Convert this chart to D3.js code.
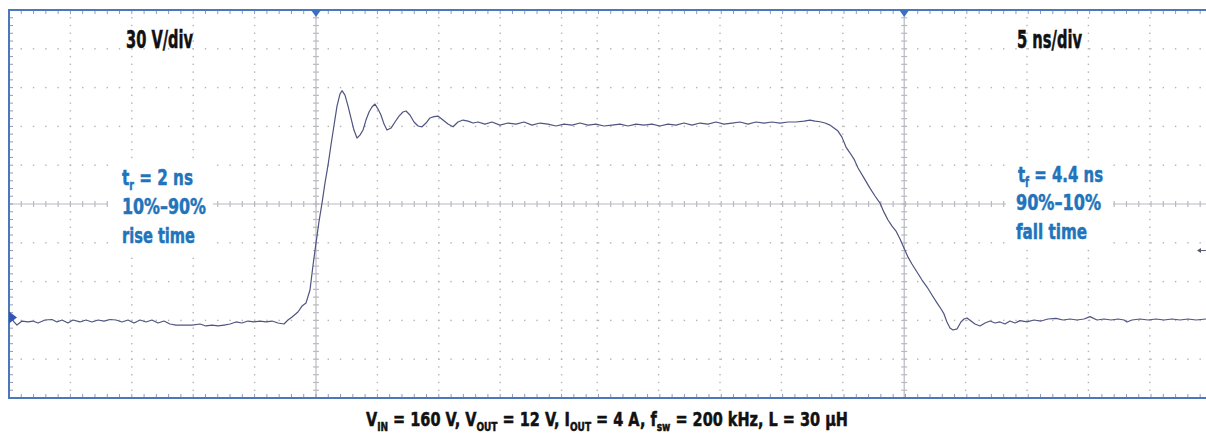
<!DOCTYPE html>
<html>
<head>
<meta charset="utf-8">
<script src="https://cdn.jsdelivr.net/npm/d3@7"></script>
<style>
  body { margin: 0; background: #fff; }
  svg { display: block; }
  .lbl { font-family: "Liberation Sans Narrow", "DejaVu Sans Condensed", "Roboto", sans-serif; font-weight: bold; font-stretch: condensed; }
</style>
</head>
<body>
<div id="chart"></div>
<script>
// switch-node waveform, time in ns (0 = rise trigger), volts
const timeNs = [
  -24.92, -24.59, -24.35, -23.94, -23.45, -23.05, -22.64, -22.07, -21.5, -21.09,
  -20.68, -20.2, -19.79, -19.22, -18.73, -18.24, -17.75, -17.26, -16.78, -16.29,
  -15.8, -15.31, -14.82, -14.33, -13.84, -13.36, -12.87, -12.38, -11.89, -11.4,
  -10.75, -10.1, -9.45, -8.96, -8.47, -7.98, -7.49, -7.0, -6.51, -6.03,
  -5.54, -5.05, -4.56, -4.07, -3.58, -3.09, -2.61, -2.28, -1.95, -1.47,
  -1.14, -0.81, -0.49, -0.24, 0, 0.24, 0.49, 0.73, 0.98, 1.22,
  1.47, 1.71, 1.95, 2.12, 2.36, 2.61, 2.85, 3.09, 3.34, 3.58,
  3.83, 4.07, 4.32, 4.56, 4.8, 5.05, 5.29, 5.54, 5.78, 6.11,
  6.43, 6.76, 7.08, 7.33, 7.65, 7.98, 8.31, 8.63, 8.96, 9.28,
  9.61, 9.93, 10.34, 10.75, 11.16, 11.56, 11.97, 12.38, 12.79, 13.19,
  13.76, 14.33, 14.98, 15.64, 16.29, 16.94, 17.59, 18.24, 18.89, 19.54,
  20.2, 20.85, 21.5, 22.15, 22.8, 23.45, 24.1, 24.76, 25.41, 26.06,
  26.71, 27.36, 28.01, 28.66, 29.32, 29.97, 30.62, 31.27, 31.92, 32.57,
  33.22, 33.88, 34.53, 35.18, 35.83, 36.48, 37.13, 37.79, 38.44, 39.09,
  39.74, 40.23, 40.64, 41.04, 41.45, 41.86, 42.18, 42.51, 42.83, 43.16,
  43.49, 43.81, 44.14, 44.63, 45.11, 45.52, 45.93, 46.25, 46.58, 46.91,
  47.23, 47.56, 47.88, 48.21, 48.53, 48.94, 49.35, 49.76, 50.16, 50.57,
  50.9, 51.14, 51.38, 51.63, 51.87, 52.2, 52.52, 52.77, 53.01, 53.34,
  53.66, 54.07, 54.48, 54.89, 55.29, 55.7, 56.11, 56.51, 56.92, 57.33,
  57.9, 58.47, 59.04, 59.61, 60.26, 60.83, 61.4, 61.97, 62.54, 63.03,
  63.6, 64.17, 64.74, 65.31, 65.8, 66.04, 66.45, 67.1, 67.75, 68.4,
  69.06, 69.71, 70.36, 71.01, 71.66, 72.48
];
const volts = [
  3.4, -1.2, -3.6, -0.5, -1.2, -0.5, -2.0, 0.3, 0.7, -1.2,
  0.3, -2.0, 0.3, -1.2, 0.3, -1.2, 0.3, -0.5, 0.7, 0.3,
  -1.2, 0.3, -2.0, 0.3, -1.2, 0.3, -2.0, -0.5, -2.8, -3.6,
  -3.6, -3.6, -2.8, -4.3, -3.6, -4.3, -3.6, -2.8, -1.2, -2.0,
  -0.5, -1.2, -0.5, -1.2, -0.5, -2.0, -2.8, 0.3, 2.6, 6.5,
  11.1, 13.5, 23.5, 42.8, 59.8, 76.1, 90.7, 106.2, 120.1, 135.6,
  151.0, 165.7, 175.0, 177.6, 174.2, 165.7, 156.4, 147.2, 141.0, 143.3,
  147.2, 154.9, 161.1, 165.0, 167.3, 163.4, 158.8, 151.8, 147.2, 148.7,
  153.4, 158.0, 161.1, 161.9, 158.8, 153.4, 150.3, 149.7, 152.6, 156.5,
  157.6, 158.0, 154.9, 151.8, 149.7, 153.4, 154.9, 154.1, 152.6, 153.4,
  151.8, 153.4, 151.0, 152.6, 151.8, 153.4, 151.0, 152.6, 151.8, 150.3,
  151.8, 151.0, 152.6, 151.0, 151.8, 150.3, 151.0, 151.8, 150.3, 151.8,
  151.0, 151.8, 150.3, 151.8, 151.0, 152.6, 151.0, 152.6, 151.8, 153.4,
  151.8, 152.6, 153.4, 151.8, 153.4, 152.6, 153.4, 152.6, 153.4, 153.4,
  154.1, 154.9, 154.1, 153.6, 152.6, 151.0, 148.7, 146.4, 141.7, 134.0,
  129.4, 124.7, 117.8, 110.0, 102.3, 96.2, 90.7, 83.7, 77.6, 72.9,
  69.1, 62.9, 55.9, 48.9, 43.6, 37.4, 31.2, 25.8, 19.6, 13.5,
  8.8, 5.0, -1.2, -5.9, -7.4, -6.6, -1.2, 1.1, 1.9, -0.5,
  -2.8, -4.3, -2.0, -0.5, -2.0, -1.2, -2.8, -0.5, -2.0, -0.2,
  -1.2, 0.3, -0.5, 1.1, 1.6, 0.3, 1.1, 0.3, 1.1, 2.9,
  0.3, 1.1, 0.3, 1.1, 0.3, -1.2, 0.3, 1.1, 0.3, 1.1,
  0.3, 1.1, 0.3, 1.1, 0.3, 1.1
];

// graticule (two stitched screens: rise edge and fall edge)
const cursorsNs = [0, 47.9];
const riseGridNs = [-20, -15, -10, -5, 5, 10, 15, 20];
const fallGridNs = [22.9, 27.9, 32.9, 37.9, 42.9, 52.9, 57.9, 62.9, 67.9, 72.9];
const voltGrid = [-30, 0, 30, 60, 120, 150, 180, 210];
const centerVolt = 90;
const groundVolt = 0;
const triggerVolt = 54;

const width = 1206, height = 436;

const x = d3.scaleLinear().domain([-25, 72.5]).range([9, 1206.3]);
const y = d3.scaleLinear().domain([-60, 240]).range([398, 10]);

const svg = d3.select('#chart')
  .append('svg')
  .attr('width', width)
  .attr('height', height)
  .attr('viewBox', [0, 0, width, height]);

const fL = x(-25), fR = width, fT = y(240), fB = y(-60);
const minorNs = d3.range(-25, 73, 1);
const minorV = d3.range(-60, 241, 6);

// dotted grid
const dots = svg.append('g').attr('fill', '#b4b4b8');
voltGrid.forEach(v => {
  dots.selectAll(null)
    .data(minorNs.filter(t => x(t) > fL + 2))
    .join('rect')
    .attr('x', t => x(t) - 0.7)
    .attr('y', y(v) - 0.7)
    .attr('width', 1.4)
    .attr('height', 1.4);
});
riseGridNs.concat(fallGridNs).forEach(t => {
  dots.selectAll(null)
    .data(minorV.filter(v => y(v) > fT + 2 && y(v) < fB - 2))
    .join('rect')
    .attr('x', x(t) - 0.7)
    .attr('y', v => y(v) - 0.7)
    .attr('width', 1.4)
    .attr('height', 1.4);
});

// center axes with minor ticks
const axes = svg.append('g').attr('stroke', '#b9b9c2').attr('stroke-width', 1.2);
axes.append('line')
  .attr('x1', fL).attr('x2', fR)
  .attr('y1', y(centerVolt)).attr('y2', y(centerVolt));
axes.selectAll(null)
  .data(minorNs)
  .join('line')
  .attr('x1', t => x(t)).attr('x2', t => x(t))
  .attr('y1', y(centerVolt) - 3).attr('y2', y(centerVolt) + 3);
cursorsNs.forEach(c => {
  axes.append('line')
    .attr('x1', x(c)).attr('x2', x(c))
    .attr('y1', fT).attr('y2', fB);
  axes.selectAll(null)
    .data(minorV)
    .join('line')
    .attr('x1', x(c) - 3).attr('x2', x(c) + 3)
    .attr('y1', v => y(v)).attr('y2', v => y(v));
});

// text backgrounds
svg.append('rect').attr('x', 108).attr('y', 160).attr('width', 105).attr('height', 92).attr('fill', '#fff');
svg.append('rect').attr('x', 1006).attr('y', 158).attr('width', 107).attr('height', 90).attr('fill', '#fff');

// frame ticks
const ticks = svg.append('g').attr('stroke', '#8d9bbd').attr('stroke-width', 1);
ticks.selectAll(null)
  .data(minorNs)
  .join('line')
  .attr('x1', t => x(t)).attr('x2', t => x(t))
  .attr('y1', fT).attr('y2', fT + 4);
ticks.selectAll(null)
  .data(minorNs)
  .join('line')
  .attr('x1', t => x(t)).attr('x2', t => x(t))
  .attr('y1', fB).attr('y2', fB - 4);
ticks.selectAll(null)
  .data(minorV)
  .join('line')
  .attr('x1', fL).attr('x2', fL + 4)
  .attr('y1', v => y(v)).attr('y2', v => y(v));

// frame
const frame = svg.append('g').attr('stroke', '#4c78bb').attr('stroke-width', 2);
frame.append('line').attr('x1', fL - 1).attr('x2', fR).attr('y1', fT).attr('y2', fT);
frame.append('line').attr('x1', fL - 1).attr('x2', fR).attr('y1', fB).attr('y2', fB);
frame.append('line').attr('x1', fL).attr('x2', fL).attr('y1', fT).attr('y2', fB);

// waveform
const wave = timeNs.map((t, i) => ({ t, v: volts[i] }));
svg.append('path')
  .datum(wave)
  .attr('fill', 'none')
  .attr('stroke', '#4f5480')
  .attr('stroke-width', 1.2)
  .attr('stroke-linejoin', 'round')
  .attr('d', d3.line().x(d => x(d.t)).y(d => y(d.v)));

// markers
cursorsNs.forEach(c => {
  svg.append('path')
    .attr('d', `M${x(c) - 5},${fT} L${x(c) + 5},${fT} L${x(c)},${fT + 7} Z`)
    .attr('fill', '#3b6fc2');
});
svg.append('path')
  .attr('d', `M${fL},${y(groundVolt) - 9} L${fL + 8},${y(groundVolt) - 3} L${fL},${y(groundVolt) + 3} Z`)
  .attr('fill', '#3455b3');
svg.append('path')
  .attr('d', `M${fR - 9},${y(triggerVolt)} L${fR - 5},${y(triggerVolt) - 2.5} L${fR - 5},${y(triggerVolt) + 2.5} Z`)
  .attr('fill', '#555a70');
svg.append('line')
  .attr('x1', fR - 5).attr('x2', fR)
  .attr('y1', y(triggerVolt)).attr('y2', y(triggerVolt))
  .attr('stroke', '#555a70');

// labels; parts are strings or {sub: '...'} subscripts
function label (xp, yp, parts, len, color, size) {
  const t = svg.append('text')
    .attr('class', 'lbl')
    .attr('x', xp).attr('y', yp)
    .attr('fill', color)
    .attr('stroke', color)
    .attr('stroke-width', 0.5)
    .attr('font-size', size)
    .attr('textLength', len)
    .attr('lengthAdjust', 'spacingAndGlyphs');
  let lowered = false;
  parts.forEach(p => {
    if (typeof p === 'string') {
      const s = t.append('tspan').text(p);
      if (lowered) s.attr('dy', -5);
      lowered = false;
    } else {
      t.append('tspan').attr('dy', 5).attr('font-size', size * 0.62).text(p.sub);
      lowered = true;
    }
  });
}

const black = '#111', blue = '#1f74bb';
label(126, 48, ['30 V/div'], 67, black, 24);
label(1017, 48, ['5 ns/div'], 65, black, 24);

label(122, 185, ['t', { sub: 'r' }, ' = 2 ns'], 71, blue, 22);
label(122, 214, ['10%\u201390%'], 84, blue, 22);
label(122, 243, ['rise time'], 73, blue, 22);

label(1018, 182, ['t', { sub: 'f' }, ' = 4.4 ns'], 85, blue, 22);
label(1016, 210, ['90%\u201310%'], 85, blue, 22);
label(1016, 239, ['fall time'], 71, blue, 22);

label(366, 426, ['V', { sub: 'IN' }, ' = 160 V, V', { sub: 'OUT' }, ' = 12 V, I', { sub: 'OUT' },
  ' = 4 A, f', { sub: 'sw' }, ' = 200 kHz, L = 30 \u00b5H'], 482, black, 20);
</script>
</body>
</html>
